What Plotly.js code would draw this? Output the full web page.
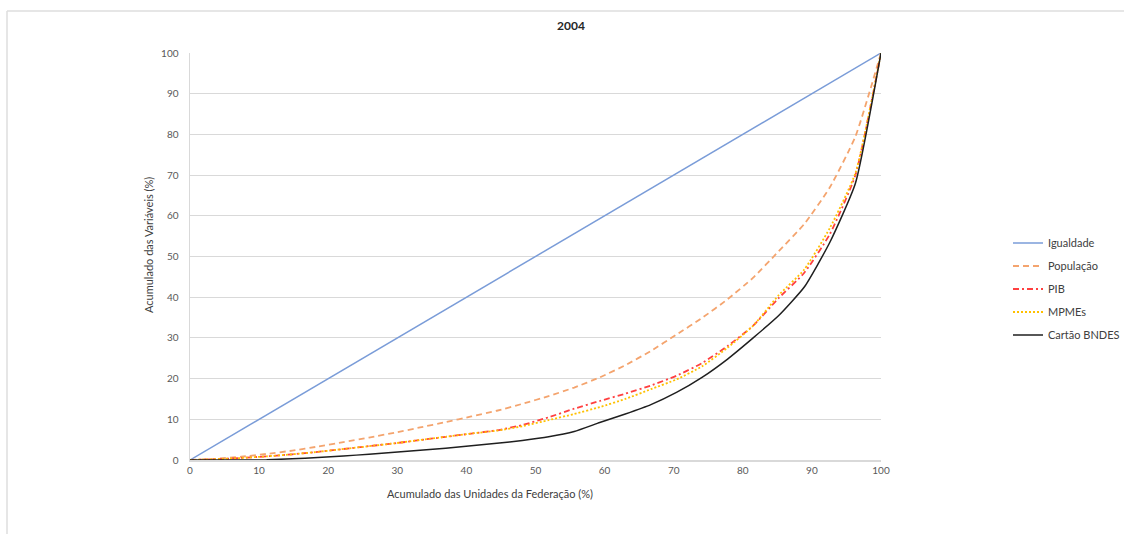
<!DOCTYPE html>
<html>
<head>
<meta charset="utf-8">
<script src="https://cdn.plot.ly/plotly-3.0.1.min.js"></script>
<style>html,body{margin:0;padding:0;background:#fff;}#chart{width:1124px;height:534px;}</style>
</head>
<body>
<div id="chart"></div>
<script>
// Cumulative share of federative units (%), 27 UFs
const ufShare = [0, 3.7, 7.4, 11.1, 14.8, 18.5, 22.2, 25.9, 29.6, 33.3, 37.0, 40.7, 44.4, 48.1, 51.9, 55.6, 59.3, 63.0, 66.7, 70.4, 74.1, 77.8, 81.5, 85.2, 88.9, 92.6, 96.3, 100];
const igualdade = [0, 100];
const igualdadeX = [0, 100];
const populacao = [0, 0.3, 0.8, 1.5, 2.3, 3.3, 4.4, 5.5, 6.7, 8.0, 9.3, 10.7, 12.1, 13.8, 15.7, 17.8, 20.3, 23.3, 26.8, 30.8, 34.9, 39.5, 44.8, 51.3, 58.0, 67.0, 79.5, 100];
const pib = [0, 0.2, 0.5, 0.9, 1.4, 2.0, 2.7, 3.4, 4.1, 4.9, 5.7, 6.5, 7.3, 8.6, 10.5, 12.6, 14.5, 16.3, 18.3, 20.7, 23.8, 28.0, 33.0, 39.8, 46.0, 55.5, 70.0, 100];
const mpmes = [0, 0.2, 0.5, 0.9, 1.4, 2.0, 2.7, 3.4, 4.1, 4.9, 5.7, 6.5, 7.2, 8.3, 9.8, 11.3, 13.0, 15.0, 17.4, 19.8, 23.0, 27.6, 33.0, 40.5, 46.8, 57.0, 70.5, 100];
const cartaoBNDES = [0, 0, 0, 0.05, 0.3, 0.6, 1.0, 1.4, 1.9, 2.4, 2.9, 3.5, 4.1, 4.8, 5.7, 7.0, 9.2, 11.3, 13.6, 16.6, 20.3, 24.8, 30.0, 35.5, 42.5, 53.5, 68.0, 100];
const ticksX = [0, 10, 20, 30, 40, 50, 60, 70, 80, 90, 100];
const ticksY = [0, 10, 20, 30, 40, 50, 60, 70, 80, 90, 100];

const FONT = 'Lato, "Liberation Sans", sans-serif';
const sp = {shape: 'spline', smoothing: 0.5};

const traces = [
  {x: igualdadeX, y: igualdade, name: 'Igualdade', legendgroup: 'a', mode: 'lines', line: {color: '#7a9cd8', width: 1.5}},
  {x: ufShare, y: populacao, name: 'População', legendgroup: 'b', mode: 'lines', line: Object.assign({color: '#f4a46e', width: 1.8, dash: '6px,4px'}, sp)},
  {x: ufShare, y: pib, name: 'PIB', legendgroup: 'c', mode: 'lines', line: Object.assign({color: '#ff4040', width: 1.8, dash: '6px,3px,2px,3px'}, sp)},
  {x: ufShare, y: mpmes, name: 'MPMEs', legendgroup: 'd', mode: 'lines', line: Object.assign({color: '#ffc000', width: 1.8, dash: '2px,2px'}, sp)},
  {x: ufShare, y: cartaoBNDES, name: 'Cartão BNDES', legendgroup: 'e', mode: 'lines', line: Object.assign({color: '#1f1f1f', width: 1.5}, sp)}
];

const PL = 190, PR = 881, PT = 53, PB = 460;
const px = v => (v - PL) / (PR - PL);
const py = v => (PB - v) / (PB - PT);

const layout = {
  width: 1124, height: 534,
  margin: {l: PL, r: 1124 - PR, t: PT, b: 534 - PB, autoexpand: false},
  paper_bgcolor: '#ffffff', plot_bgcolor: '#ffffff',
  font: {family: FONT, size: 10, color: '#595959'},
  showlegend: true,
  legend: {x: px(1008), xanchor: 'left', y: py(289), yanchor: 'middle', font: {family: FONT, size: 11, color: '#404040'}, tracegroupgap: 4, traceorder: 'grouped', itemwidth: 30, bgcolor: 'rgba(0,0,0,0)'},
  xaxis: {range: [0, 100], tickvals: ticksX, ticktext: ticksX.map(String), showgrid: false, zeroline: false, showline: true, linecolor: '#d9d9d9', linewidth: 1.5, ticks: '', tickfont: {size: 10, color: '#595959'}, fixedrange: true},
  yaxis: {range: [0, 100], tickvals: ticksY, ticktext: ticksY.map(String), showgrid: true, gridcolor: '#d9d9d9', gridwidth: 1, zeroline: false, showline: true, linecolor: '#d9d9d9', linewidth: 1.5, ticks: '', ticklabelstandoff: 8, tickfont: {size: 10, color: '#595959'}, fixedrange: true},
  annotations: [
    {text: '<b>2004</b>', xref: 'paper', yref: 'paper', x: px(571), y: py(26), xanchor: 'center', yanchor: 'middle', showarrow: false, font: {family: FONT, size: 12, color: '#262626'}},
    {text: 'Acumulado das Unidades da Federação (%)', xref: 'paper', yref: 'paper', x: px(490), y: py(494), xanchor: 'center', yanchor: 'middle', showarrow: false, font: {family: FONT, size: 11, color: '#404040'}},
    {text: 'Acumulado das Variáveis (%)', xref: 'paper', yref: 'paper', x: px(148), y: py(245), xanchor: 'center', yanchor: 'middle', textangle: -90, showarrow: false, font: {family: FONT, size: 11, color: '#404040'}}
  ],
  shapes: [
    {type: 'line', xref: 'paper', yref: 'paper', x0: px(7), x1: px(1130), y0: py(11), y1: py(11), line: {color: '#dedede', width: 1.5}},
    {type: 'line', xref: 'paper', yref: 'paper', x0: px(7), x1: px(7), y0: py(11), y1: py(540), line: {color: '#dedede', width: 1.5}}
  ]
};

Plotly.newPlot('chart', traces, layout, {displayModeBar: false, staticPlot: true});
</script>
</body>
</html>
